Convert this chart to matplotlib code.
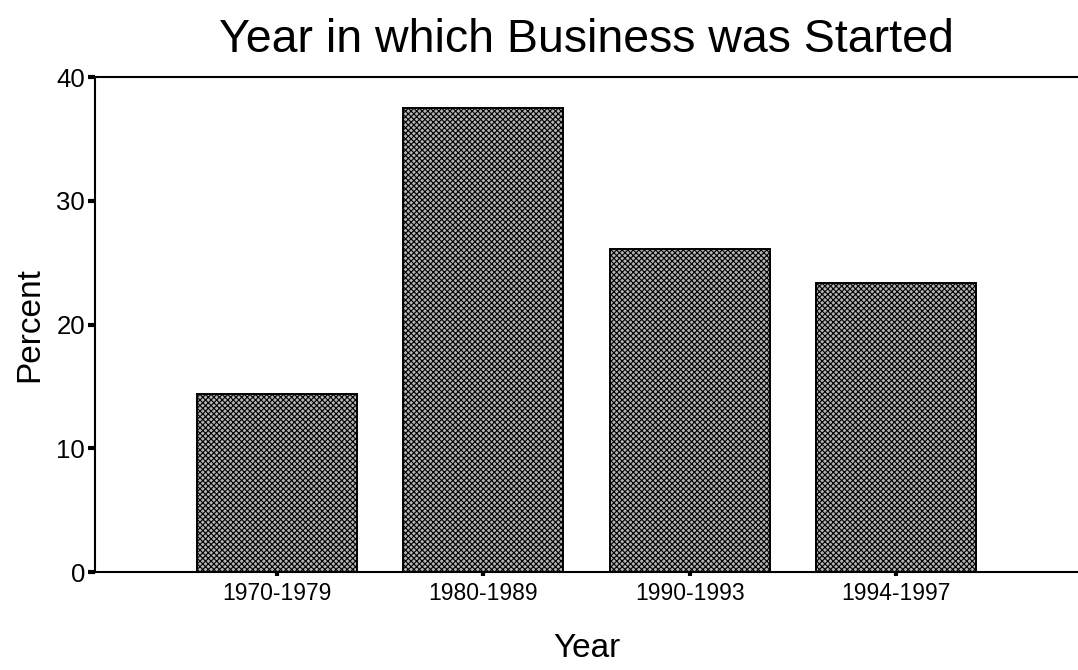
import matplotlib
matplotlib.use("Agg")
import matplotlib.pyplot as plt

# datos
periodos = ["1970-1979", "1980-1989", "1990-1993", "1994-1997"]
porcentajes = [14.4, 37.5, 26.1, 23.4]
ticks_y = [0, 10, 20, 30, 40]

plt.rcParams['font.family'] = ['Liberation Sans', 'DejaVu Sans']
plt.rcParams['hatch.color'] = '#555555'
plt.rcParams['hatch.linewidth'] = 0.8

fig = plt.figure(figsize=(10.78, 6.70), dpi=100)
ax = fig.add_axes([0.088, 0.146, 0.912, 0.739])

x = range(len(periodos))
ax.bar(x, porcentajes, width=0.775, color='#b4b4b4', edgecolor='black',
       linewidth=1.4, hatch='xxxxxx')

ax.set_xlim(-0.88, 3.88)
ax.set_ylim(0, 40)
ax.set_yticks(ticks_y)
ax.set_xticks(list(x))
ax.set_xticklabels(periodos)

ax.spines['right'].set_visible(False)
for lado in ['left', 'bottom', 'top']:
    ax.spines[lado].set_linewidth(1.5)

ax.tick_params(axis='y', direction='out', length=5, width=3, labelsize=18.5, pad=2)
ax.tick_params(axis='x', direction='out', length=3, width=3, labelsize=16.5, pad=4)

ax.set_title("Year in which Business was Started", fontsize=33.5, pad=18)
ax.set_ylabel("Percent", fontsize=24, labelpad=8)
ax.set_xlabel("Year", fontsize=24, labelpad=20)

fig.savefig("out.png", dpi=100, facecolor='white')
